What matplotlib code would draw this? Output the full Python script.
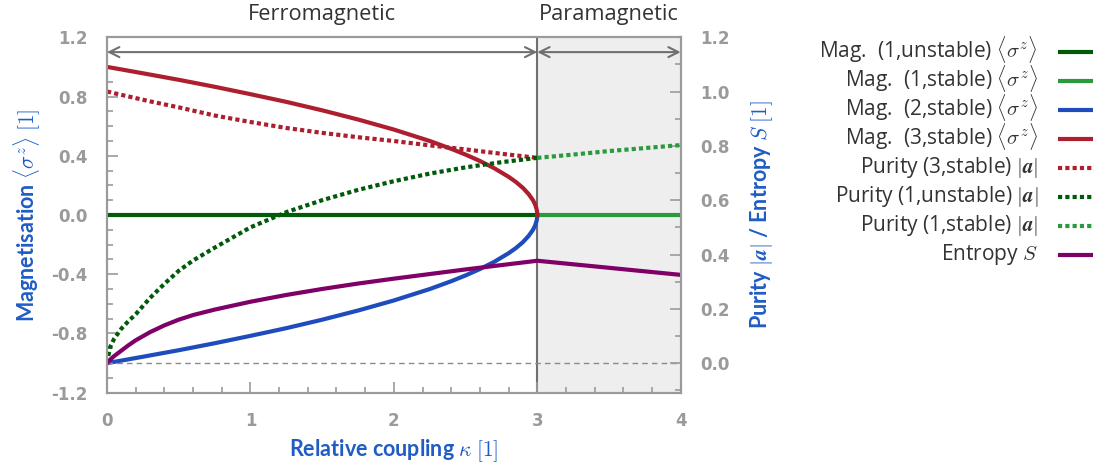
import matplotlib
matplotlib.use("Agg")
import matplotlib.pyplot as plt
from matplotlib.lines import Line2D
from matplotlib.ticker import MultipleLocator

plt.rcParams["font.family"] = ["Open Sans", "DejaVu Sans"]
plt.rcParams["mathtext.fontset"] = "cm"

# Magnetisation branches in the ferromagnetic phase (kappa <= 3)
kappa_mag = [0.0, 0.1, 0.25, 0.5, 0.75, 1.0, 1.25, 1.5, 1.75, 2.0, 2.25, 2.4, 2.5,
             2.6, 2.7, 2.8, 2.85, 2.9, 2.94, 2.97, 2.985, 2.995, 2.999, 3.0]
mag_stable3 = [1.000, 0.983, 0.957, 0.913, 0.866, 0.816, 0.764, 0.707, 0.645, 0.577,
               0.500, 0.447, 0.408, 0.365, 0.316, 0.258, 0.224, 0.183, 0.141, 0.100,
               0.071, 0.041, 0.018, 0.0]
mag_stable2 = [-1.000, -0.983, -0.957, -0.913, -0.866, -0.816, -0.764, -0.707, -0.645,
               -0.577, -0.500, -0.447, -0.408, -0.365, -0.316, -0.258, -0.224, -0.183,
               -0.141, -0.100, -0.071, -0.041, -0.018, 0.0]

kappa_ferro = [0.0, 3.0]
mag_unstable1 = [0.0, 0.0]
kappa_para = [3.0, 4.0]
mag_stable1 = [0.0, 0.0]

# Purity of the Bloch vector
kappa_pur = [0.0, 0.02, 0.05, 0.1, 0.15, 0.2, 0.3, 0.4, 0.5, 0.6, 0.75, 1.0, 1.25, 1.5,
             1.75, 2.0, 2.25, 2.5, 2.75, 3.0]
purity_stable3 = [1.000, 0.998, 0.994, 0.988, 0.982, 0.976, 0.964, 0.953, 0.942, 0.930,
                  0.912, 0.888, 0.866, 0.848, 0.832, 0.818, 0.802, 0.787, 0.771, 0.756]
purity_unstable1 = [0.000, 0.057, 0.090, 0.127, 0.155, 0.180, 0.240, 0.292, 0.340, 0.378,
                    0.425, 0.500, 0.556, 0.600, 0.638, 0.670, 0.698, 0.721, 0.740, 0.756]

kappa_pur_para = [3.0, 3.25, 3.5, 3.75, 4.0]
purity_stable1 = [0.756, 0.768, 0.781, 0.792, 0.803]

# Entropy of the stable state
kappa_ent = [0.0, 0.02, 0.05, 0.1, 0.15, 0.2, 0.3, 0.4, 0.5, 0.6, 0.75, 1.0, 1.25, 1.5,
             1.75, 2.0, 2.25, 2.5, 2.75, 3.0, 3.25, 3.5, 3.75, 4.0]
entropy = [0.000, 0.012, 0.026, 0.046, 0.066, 0.084, 0.114, 0.139, 0.160, 0.177, 0.197,
           0.226, 0.251, 0.273, 0.293, 0.311, 0.328, 0.345, 0.361, 0.377, 0.364, 0.351,
           0.338, 0.325]

x_ticks = [0, 1, 2, 3, 4]
left_ticks = [-1.2, -0.8, -0.4, 0.0, 0.4, 0.8, 1.2]
right_ticks = [0.0, 0.2, 0.4, 0.6, 0.8, 1.0, 1.2]

C_DGREEN = "#005a0a"
C_LGREEN = "#2a9a3c"
C_BLUE = "#1f4cbd"
C_RED = "#ad1e2e"
C_PURPLE = "#7f0066"
C_LABEL = "#1f5cc4"
C_TICK = "#9a9a9a"
C_SPINE = "#9a9a9a"
C_LINE = "#707070"

W, H = 1100, 471
fig = plt.figure(figsize=(W / 100, H / 100), dpi=100)
ax = fig.add_axes([0.0973, 0.1662, 0.5215, 0.7546])
ax2 = ax.twinx()

LW = 3.0
DOT = (0, (1.0, 0.75))

# shaded paramagnetic region and phase boundary
ax.axvspan(3, 4, color="#eeeeee", zorder=0, lw=0)
ax.axvline(3, color=C_LINE, lw=1.5, zorder=1)

h1, = ax.plot(kappa_ferro, mag_unstable1, color=C_DGREEN, lw=LW, solid_capstyle="butt",
              label=r"Mag.  (1,unstable) $\langle\sigma^z\rangle$", zorder=3)
h2, = ax.plot(kappa_para, mag_stable1, color=C_LGREEN, lw=LW, solid_capstyle="butt",
              label=r"Mag.  (1,stable) $\langle\sigma^z\rangle$", zorder=3)
h3, = ax.plot(kappa_mag, mag_stable2, color=C_BLUE, lw=LW,
              label=r"Mag.  (2,stable) $\langle\sigma^z\rangle$", zorder=3)
h4, = ax.plot(kappa_mag, mag_stable3, color=C_RED, lw=LW,
              label=r"Mag.  (3,stable) $\langle\sigma^z\rangle$", zorder=3)

ax2.axhline(0, color="#8a8a8a", lw=1.0, ls=(0, (4, 3)), zorder=1)
h5, = ax2.plot(kappa_pur, purity_stable3, color=C_RED, lw=LW, ls=DOT,
               label=r"Purity (3,stable) $|\mathbfit{a}|$")
h6, = ax2.plot(kappa_pur, purity_unstable1, color=C_DGREEN, lw=LW, ls=DOT,
               label=r"Purity (1,unstable) $|\mathbfit{a}|$")
h7, = ax2.plot(kappa_pur_para, purity_stable1, color=C_LGREEN, lw=LW, ls=DOT,
               label=r"Purity (1,stable) $|\mathbfit{a}|$")
h8, = ax2.plot(kappa_ent, entropy, color=C_PURPLE, lw=LW, label=r"Entropy $S$")

# phase arrows
arrow_kw = dict(arrowstyle="<->", color=C_LINE, lw=1.5, mutation_scale=18,
                shrinkA=0, shrinkB=0)
ax.annotate("", xy=(0, 1.10), xytext=(3, 1.10), arrowprops=arrow_kw, zorder=4)
ax.annotate("", xy=(3, 1.10), xytext=(4, 1.10), arrowprops=arrow_kw, zorder=4)
ax.text(1.5, 1.035, "Ferromagnetic", transform=ax.get_xaxis_transform(),
        ha="center", va="bottom", fontsize=15.7, color="#333333")
ax.text(3.5, 1.035, "Paramagnetic", transform=ax.get_xaxis_transform(),
        ha="center", va="bottom", fontsize=15.7, color="#333333")

ax.set_xlim(0, 4)
ax.set_ylim(-1.2, 1.2)
ax2.set_ylim(-1.2 / 11, 1.2)

ax.set_xticks(x_ticks)
ax.set_xticklabels([str(t) for t in x_ticks])
ax.set_yticks(left_ticks)
ax.set_yticklabels([f"{t:.1f}" for t in left_ticks])
ax2.set_yticks(right_ticks)
ax2.set_yticklabels([f"{t:.1f}" for t in right_ticks])
ax.xaxis.set_minor_locator(MultipleLocator(0.2))
ax.yaxis.set_minor_locator(MultipleLocator(0.1))
ax2.yaxis.set_minor_locator(MultipleLocator(0.1))

for a in (ax, ax2):
    for s in a.spines.values():
        s.set_color(C_SPINE)
        s.set_linewidth(1.5)
    a.tick_params(which="both", direction="in", color=C_SPINE, width=1.2)
    a.tick_params(which="major", length=8, labelsize=12, labelcolor=C_TICK)
    a.tick_params(which="minor", length=4)
ax.tick_params(axis="x", pad=14)
ax.tick_params(axis="y", pad=14)
ax2.tick_params(axis="y", pad=14)
for lab in ax.get_xticklabels() + ax.get_yticklabels() + ax2.get_yticklabels():
    lab.set_fontweight("bold")
    lab.set_family("DejaVu Sans")

label_kw = dict(fontsize=15.5, fontweight="bold", color=C_LABEL, family=["Lato", "DejaVu Sans"])
ax.set_xlabel(r"Relative coupling $\kappa$ $[1]$", labelpad=5, **label_kw)
ax.set_ylabel(r"Magnetisation $\langle\sigma^z\rangle$ $[1]$", labelpad=6, **label_kw)
ax2.set_ylabel(r"Purity $|\mathbfit{a}|$ / Entropy $S$ $[1]$", labelpad=13, **label_kw)

# key: right-aligned labels with the line sample to their right, evenly spaced rows
handles = [h1, h2, h3, h4, h5, h6, h7, h8]
key_text_right = 1038 / W
key_line = (1058 / W, 1093 / W)
row0, row_step = 51.7, 29.0
for i, h in enumerate(handles):
    y_line = 1 - (row0 + i * row_step) / H
    y_base = 1 - (row0 + i * row_step + 5.6) / H
    fig.text(key_text_right, y_base, h.get_label(), ha="right", va="baseline",
             fontsize=15, color="#333333")
    sample = Line2D(key_line, [y_line, y_line])
    sample.update_from(h)
    sample.set_transform(fig.transFigure)
    sample.set_clip_on(False)
    sample.set_clip_box(None)
    sample.set_solid_capstyle("butt")
    sample.set_dash_capstyle("butt")
    fig.add_artist(sample)

fig.savefig("out.png", dpi=100)
